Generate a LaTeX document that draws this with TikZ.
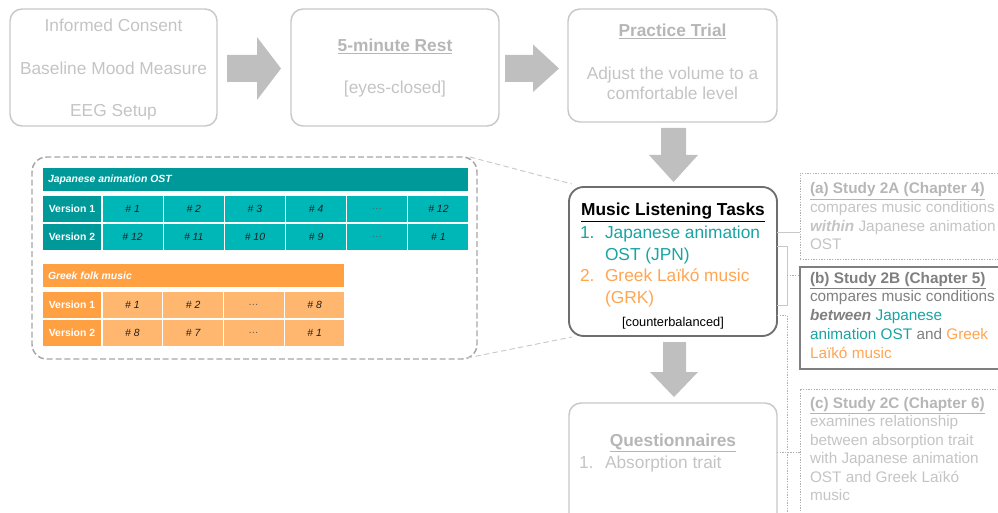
\documentclass[tikz,border=0pt]{standalone}
\usepackage{fontspec}
\setmainfont{Liberation Sans}
\usetikzlibrary{calc}

\definecolor{tealA}{HTML}{009999}
\definecolor{tealB}{HTML}{00B7B7}
\definecolor{orangeA}{HTML}{FFA043}
\definecolor{orangeB}{HTML}{FFB66E}
\definecolor{tealtxt}{HTML}{1AA3A3}
\definecolor{orangetxt}{HTML}{FFA552}
\definecolor{faint}{HTML}{C4C4C4}
\definecolor{fainttitle}{HTML}{B6B6B6}
\definecolor{faintline}{HTML}{C8C8C8}
\definecolor{arrowfill}{HTML}{BFBFBF}
\definecolor{darkbox}{HTML}{6E6E6E}
\definecolor{midgrey}{HTML}{7F7F7F}
\definecolor{dashgrey}{HTML}{A6A6A6}
\definecolor{dotgrey}{HTML}{B0B0B0}
\definecolor{numtxt}{HTML}{1E1E1E}
\definecolor{ellgrey}{HTML}{5A5A5A}

% rectangle node from corner (x1,y1) to corner (x2,y2), in pixel units
\newcommand\boxat[6]{%
  \node[#2, anchor=north west, minimum width={((#5)-(#3))*0.75pt},
        minimum height={((#6)-(#4))*0.75pt}] (#1) at ({#3},{#4}) {};}
% table cell with text
\newcommand\cellat[7]{%
  \node[#2, anchor=north west, minimum width={((#5)-(#3))*0.75pt},
        minimum height={((#6)-(#4))*0.75pt}] (#1) at ({#3},{#4}) {#7};}
\newcommand\elld{{\color{ellgrey}\ldots}}

\begin{document}
\begin{tikzpicture}[x=0.75pt,y=-0.75pt,
  every node/.style={inner sep=0pt, outer sep=0pt},
  fadebox/.style={draw=faintline, line width=1.1pt, rounded corners=9pt},
  mainbox/.style={draw=darkbox, line width=1.4pt, rounded corners=11pt},
  tblframe/.style={draw=dashgrey, line width=1.1pt, rounded corners=11pt,
                   dash pattern=on 4.5pt off 2.2pt},
  dotbox/.style={draw=dotgrey, line width=0.6pt, dash pattern=on 1pt off 1pt},
  solidbox/.style={draw=midgrey, line width=1.5pt},
  tb/.style={font=\fontsize{13}{15}\selectfont, text=faint, anchor=base},
  tbh/.style={font=\fontsize{13}{15}\selectfont\bfseries, text=fainttitle, anchor=base},
  mt/.style={font=\fontsize{13}{15}\selectfont, anchor=base west},
  st/.style={font=\fontsize{11.5}{14}\selectfont, anchor=base west},
  hcell/.style={font=\fontsize{7.8}{9}\selectfont\bfseries, text=white, draw=white, line width=0.8pt},
  ncell/.style={font=\fontsize{7.8}{9}\selectfont\itshape, text=numtxt, draw=white, line width=0.8pt},
  htxt/.style={font=\fontsize{7.8}{9}\selectfont\bfseries\itshape, text=white, anchor=west},
  conn/.style={draw=faintline, line width=0.6pt},
  connd/.style={draw=dotgrey, line width=0.6pt, dash pattern=on 1pt off 1pt},
  zoomline/.style={draw=faintline, line width=0.7pt, dash pattern=on 4pt off 2.5pt},
  blockarrow/.style={fill=arrowfill}
]
\useasboundingbox (0,0) rectangle (998,513);
\clip (0,0) rectangle (998,513);

% ---------- top row of procedure steps ----------
\boxat{consent}{fadebox}{10}{9}{217}{126}
\boxat{rest}{fadebox}{291}{9}{499}{126}
\boxat{practice}{fadebox}{568}{9}{777}{122}

\node[tb] (t1a) at (113.5,31.7) {Informed Consent};
\node[tb] (t1b) at (113.5,75) {Baseline Mood Measure};
\node[tb] (t1c) at (113.5,116.7) {EEG Setup};

\node[tbh] (t2a) at (395,51.7) {\underline{5-minute Rest}};
\node[tb] (t2b) at (395,93.3) {[eyes-closed]};

\node[tbh] (t3a) at (672.5,36.7) {\underline{Practice Trial}};
\node[tb] (t3b) at (672.5,80) {Adjust the volume to a};
\node[tb] (t3c) at (672.5,100) {comfortable level};

% block arrows between steps
\fill[blockarrow] (227,55) -- (257,55) -- (257,37) -- (281,68.5) -- (257,100) -- (257,82) -- (227,82) -- cycle;
\fill[blockarrow] (505,55) -- (533,55) -- (533,44.5) -- (559,68.5) -- (533,92) -- (533,82) -- (505,82) -- cycle;
\fill[blockarrow] (661,128) -- (686,128) -- (686,155) -- (698,155) -- (673.5,182) -- (649,155) -- (661,155) -- cycle;
\fill[blockarrow] (663,342) -- (686,342) -- (686,372) -- (698,372) -- (674,397) -- (650,372) -- (663,372) -- cycle;

% ---------- music listening tasks ----------
\boxat{music}{mainbox}{569}{187}{777}{336}
\node[font=\fontsize{13}{15}\selectfont\bfseries, anchor=base] (mtitle) at (673,215.7) {\underline{Music Listening Tasks}};
\node[mt, text=tealtxt] (m1n) at (580,238.3) {1.};
\node[mt, text=tealtxt] (m1a) at (605,238.3) {Japanese animation};
\node[mt, text=tealtxt] (m1b) at (605,260) {OST (JPN)};
\node[mt, text=orangetxt] (m2n) at (580,281) {2.};
\node[mt, text=orangetxt] (m2a) at (605,281) {Greek Laïkó music};
\node[mt, text=orangetxt] (m2b) at (605,303.3) {(GRK)};
\node[font=\fontsize{9.6}{11}\selectfont, anchor=base] (mcb) at (673,326.7) {[counterbalanced]};

% ---------- questionnaires ----------
\boxat{quest}{fadebox}{569}{403}{777}{540}
\node[tbh] (qtitle) at (673,446) {\underline{Questionnaires}};
\node[mt, text=faint] (q1n) at (579,468.3) {1.};
\node[mt, text=faint] (q1a) at (605,468.3) {Absorption trait};

% ---------- stimulus table ----------
\boxat{tbl}{tblframe}{32}{157}{477}{359}

\cellat{jhead}{fill=tealA, draw=white, line width=0.8pt}{42}{167}{469}{192}{}
\node[htxt] (jheadtxt) at (48,179.5) {Japanese animation OST};
\cellat{jv1}{hcell, fill=tealA}{42}{195}{102}{223}{Version 1}
\cellat{jv2}{hcell, fill=tealA}{42}{223}{102}{251}{Version 2}
\foreach \t [count=\i from 0] in {\# 1,\# 2,\# 3,\# 4,\elld,\# 12}{
  \cellat{ja\i}{ncell, fill=tealB}{102+61.17*\i}{195}{163.17+61.17*\i}{223}{\t}
}
\foreach \t [count=\i from 0] in {\# 12,\# 11,\# 10,\# 9,\elld,\# 1}{
  \cellat{jb\i}{ncell, fill=tealB}{102+61.17*\i}{223}{163.17+61.17*\i}{251}{\t}
}

\cellat{ghead}{fill=orangeA, draw=white, line width=0.8pt}{42}{263}{345}{288}{}
\node[htxt] (gheadtxt) at (48,275.5) {Greek folk music};
\cellat{gv1}{hcell, fill=orangeA}{42}{291}{102}{319}{Version 1}
\cellat{gv2}{hcell, fill=orangeA}{42}{319}{102}{347}{Version 2}
\foreach \t [count=\i from 0] in {\# 1,\# 2,\elld,\# 8}{
  \cellat{ga\i}{ncell, fill=orangeB}{102+60.75*\i}{291}{162.75+60.75*\i}{319}{\t}
}
\foreach \t [count=\i from 0] in {\# 8,\# 7,\elld,\# 1}{
  \cellat{gb\i}{ncell, fill=orangeB}{102+60.75*\i}{319}{162.75+60.75*\i}{347}{\t}
}

% zoom lines from the table frame to the task box
\draw[zoomline] ($(tbl.north east)+(-7,0)$) -- ($(music.north west)+(3,-3)$);
\draw[zoomline] ($(tbl.south east)+(-10,-1)$) -- ($(music.south west)+(3,1)$);

% ---------- studies ----------
\boxat{sa}{dotbox}{800}{173}{1004}{259}
\boxat{sb}{solidbox}{800}{267}{1004}{369}
\boxat{sc}{dotbox}{800}{389}{1004}{540}

\node[st, text=fainttitle] (sa1) at (810,194) {\textbf{\underline{(a) Study 2A (Chapter 4)}}};
\node[st, text=faint] (sa2) at (810,212.7) {compares music conditions};
\node[st, text=faint] (sa3) at (810,231) {\textbf{\textit{within}} Japanese animation};
\node[st, text=faint] (sa4) at (810,249.5) {OST};

\node[st, text=midgrey] (sb1) at (810,283.3) {\textbf{\underline{(b) Study 2B (Chapter 5)}}};
\node[st, text=midgrey] (sb2) at (810,301.7) {compares music conditions};
\node[st, text=midgrey] (sb3) at (810,320.5) {\textbf{\textit{between}} {\color{tealtxt}Japanese}};
\node[st, text=midgrey] (sb4) at (810,339.3) {{\color{tealtxt}animation OST} and {\color{orangetxt}Greek}};
\node[st, text=orangetxt] (sb5) at (810,358.2) {Laïkó music};

\node[st, text=fainttitle] (sc1) at (810,408.3) {\textbf{\underline{(c) Study 2C (Chapter 6)}}};
\node[st, text=faint] (sc2) at (810,426.7) {examines relationship};
\node[st, text=faint] (sc3) at (810,445.2) {between absorption trait};
\node[st, text=faint] (sc4) at (810,463.7) {with Japanese animation};
\node[st, text=faint] (sc5) at (810,482.2) {OST and Greek Laïkó};
\node[st, text=faint] (sc6) at (810,500.7) {music};

% ---------- connectors from tasks to studies ----------
\coordinate (ya) at (0,232);
\coordinate (yb1) at (0,246);
\coordinate (yb2) at (0,305);
\coordinate (jb) at (787,275);
\coordinate (yc) at (0,315);
\coordinate (cend) at (787,513);
\coordinate (yq) at (0,452);

\draw[conn] (music.east |- ya) -- (sa.west |- ya);
\draw[conn] (music.east |- yb1) -| (jb) |- (music.east |- yb2);
\draw[connd] (jb) -- (sb.west |- jb);
\draw[connd] (music.east |- yc) -| (cend);
\draw[connd] (quest.east |- yq) -- (sc.west |- yq);

\end{tikzpicture}
\end{document}
